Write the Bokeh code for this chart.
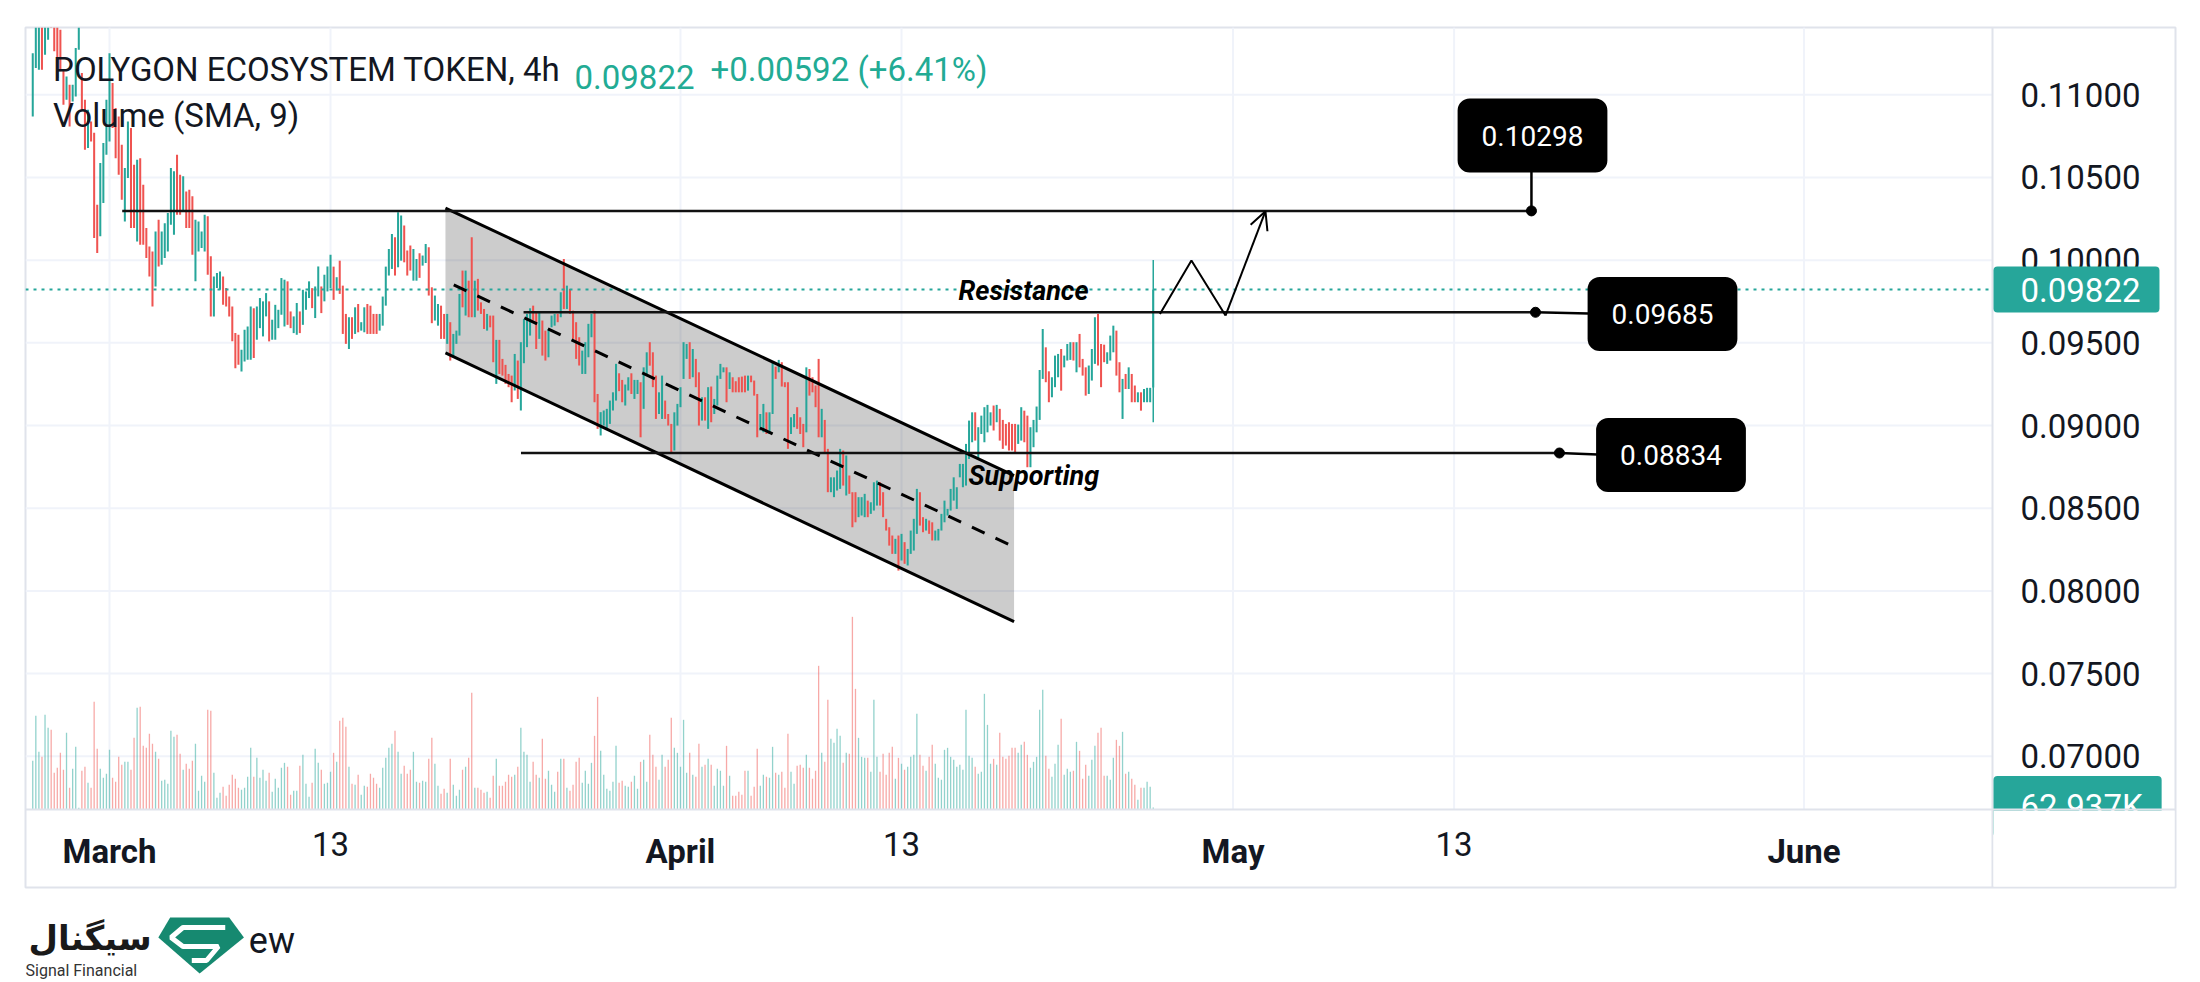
import pandas as pd
from bokeh.plotting import figure
from bokeh.models import (Range1d, LinearAxis, FixedTicker, PrintfTickFormatter, Label,
                          ColumnDataSource, Arrow, OpenHead, Span, BoxAnnotation)
from bokeh.layouts import column
from bokeh.embed import file_html
from bokeh.resources import INLINE
from bokeh.core.properties import value

# ---------------- DATA ----------------
# 4h candles (open, close) in units of 1e-5, oldest first; last candle ends 2025-04-26 16:00
open_close_e5 = [
    (10869, 11252), (11162, 11420), (11152, 11420), (11420, 11152), (11242, 11420), (11333, 11420),
    (11480, 11420), (11420, 11263), (11420, 11101), (11394, 11142), (11152, 10940), (10970, 11111),
    (11061, 10809), (10960, 11061), (10990, 11283), (11273, 11420), (11132, 10910), (10970, 10668),
    (10678, 10910), (10839, 10718), (10770, 10134), (10335, 10043), (10144, 10587), (10345, 10708),
    (10638, 10970), (10718, 11252), (11071, 10799), (10920, 10617), (10869, 10517), (10698, 10365),
    (10234, 10557), (10497, 10839), (10799, 10194), (10577, 10194), (10113, 10607), (10617, 10093),
    (10456, 10093), (10194, 10013), (10083, 9902), (10053, 9720), (9841, 10174), (10244, 9962),
    (9972, 10174), (10013, 10224), (10053, 10285), (10214, 10557), (10154, 10537), (10638, 10275),
    (10517, 10275), (10295, 10507), (10416, 10194), (10426, 10194), (10386, 10033), (9872, 10244),
    (10053, 10234), (10073, 10174), (10053, 10275), (10265, 9912), (10023, 9660), (9660, 9902),
    (9831, 9922), (9821, 9932), (9902, 9730), (9831, 9720), (9781, 9660), (9720, 9509),
    (9559, 9347), (9549, 9368), (9327, 9458), (9388, 9579), (9398, 9599), (9398, 9720),
    (9710, 9408), (9519, 9720), (9589, 9771), (9539, 9751), (9660, 9801), (9751, 9509),
    (9519, 9640), (9519, 9730), (9589, 9700), (9670, 9892), (9599, 9882), (9872, 9609),
    (9690, 9589), (9559, 9660), (9549, 9741), (9690, 9559), (9609, 9821), (9700, 9811),
    (9771, 9872), (9831, 9710), (9650, 9841), (9781, 9962), (9841, 9680), (9751, 9912),
    (9811, 9962), (9831, 10033),
    (9961, 9760), (9816, 9897), (9997, 9796), (9846, 9554), (9675, 9494), (9463, 9655),
    (9655, 9524), (9554, 9715), (9735, 9564), (9574, 9625), (9564, 9715), (9735, 9554),
    (9725, 9554), (9675, 9554), (9675, 9554), (9574, 9675), (9604, 9780), (9725, 9961),
    (9907, 10068), (9947, 10159), (10138, 9907), (9957, 10290), (9997, 10270), (10209, 9987),
    (10058, 9907), (10088, 9937), (9876, 10068), (9876, 10007), (10042, 9893), (9967, 10028),
    (9983, 10098), (10078, 9786), (9836, 9619), (9635, 9786), (9604, 9735), (9725, 9524),
    (9675, 9524), (9494, 9675), (9625, 9393), (9413, 9554), (9494, 9574), (9544, 9796),
    (9937, 9715), (9665, 9937), (9876, 9655), (10138, 9655), (9655, 9876), (9887, 9695),
    (9745, 9675), (9705, 9584), (9574, 9675), (9665, 9594), (9665, 9383), (9252, 9518),
    (9518, 9312), (9403, 9302), (9367, 9252), (9312, 9232), (9302, 9141), (9212, 9433),
    (9393, 9161), (9091, 9504), (9377, 9645), (9474, 9675), (9544, 9709), (9725, 9635),
    (9689, 9463), (9524, 9685), (9635, 9423), (9574, 9393), (9413, 9584), (9594, 9665),
    (9604, 9675), (9675, 9625), (9655, 9806), (10007, 9705), (9705, 9846), (9826, 9675),
    (9695, 9524), (9625, 9403), (9534, 9363), (9312, 9453), (9312, 9504), (9413, 9615),
    (9534, 9675), (9695, 9141), (9191, 8980), (8940, 9081), (9000, 9091), (8980, 9101),
    (9010, 9151), (9091, 9201), (9151, 9373), (9316, 9208), (9276, 9141), (9121, 9248),
    (9212, 9292),
    (9316, 9191), (9161, 9276), (9191, 9276), (9262, 8929), (9101, 9352), (9302, 9443),
    (9504, 9362), (9443, 9232), (9302, 9040), (9070, 9201), (9040, 9302), (9151, 9040),
    (9070, 9000), (9010, 8829), (8849, 9080), (9000, 9131), (9111, 9232), (9282, 9504),
    (9403, 9493), (9504, 9282), (9292, 9463), (9403, 9232), (9322, 9000), (9030, 9171),
    (9171, 9030), (8980, 9232), (9236, 9020), (9070, 9161), (9121, 9302), (9282, 9373),
    (9322, 9352), (9352, 9141), (9221, 9322), (9292, 9201), (9268, 9201), (9292, 9201),
    (9296, 9201), (9302, 9201), (9211, 9302), (9302, 9262), (9272, 9181), (9191, 8929),
    (8970, 9070), (8959, 9131), (9080, 8949), (8949, 9080), (9070, 9383), (9356, 9282),
    (9322, 9397), (9383, 9236), (9262, 9232), (9262, 8859), (8949, 9050), (8990, 9070),
    (9111, 8980), (9050, 8949), (9010, 8869), (8959, 9352), (9342, 9181), (9292, 9201),
    (9242, 9111), (9403, 8929), (8929, 9101), (9034, 8829), (8859, 8597), (8597, 8687),
    (8567, 8687), (8607, 8728), (8617, 8859), (8849, 8637), (8577, 8819), (8698, 8587),
    (8597, 8385), (8597, 8415), (8446, 8567), (8456, 8567), (8446, 8587), (8546, 8446),
    (8466, 8536), (8486, 8657), (8516, 8667), (8657, 8516), (8597, 8446), (8436, 8365),
    (8385, 8274), (8335, 8224), (8224, 8315), (8335, 8123), (8184, 8345), (8295, 8164),
    (8154, 8254), (8224, 8365), (8244, 8436), (8345, 8617), (8597, 8395), (8446, 8355),
    (8365, 8436), (8426, 8345),
    (8415, 8305), (8305, 8365), (8305, 8375), (8365, 8466), (8415, 8546), (8456, 8496),
    (8486, 8617), (8546, 8687), (8496, 8627), (8687, 8768), (8627, 8768), (8637, 8889),
    (8798, 9030), (8899, 9080), (9080, 8909), (8798, 8990), (8949, 9060), (8899, 9111),
    (8959, 9125), (9000, 9080), (9121, 8970), (9020, 9125), (9101, 8909), (9034, 8859),
    (9010, 8879), (9020, 8849), (9010, 8849), (9010, 8829), (8889, 9006), (8909, 9111),
    (9090, 8899), (9060, 8748), (8748, 8990), (8869, 9034), (8959, 9115), (9034, 9336),
    (9282, 9584), (9473, 9262), (9328, 9141), (9171, 9292), (9232, 9423), (9292, 9433),
    (9463, 9211), (9352, 9423), (9393, 9493), (9397, 9504), (9504, 9393), (9322, 9504),
    (9554, 9352), (9403, 9302), (9352, 9181), (9191, 9363), (9272, 9463), (9373, 9655),
    (9675, 9363), (9493, 9232), (9489, 9383), (9373, 9443), (9393, 9544), (9443, 9604),
    (9574, 9302), (9383, 9201), (9040, 9282), (9312, 9221), (9221, 9352), (9312, 9141),
    (9242, 9141), (9141, 9201), (9201, 9090), (9141, 9221), (9141, 9228), (9141, 9228),
    (9230, 9822),
]
last_candle_end = "2025-04-26 16:00"
last_high = 0.10001
last_low = 0.09020

# volume per 4h candle, thousands (oldest first)
volume_k = [
    3080, 1460, 2810, 1730, 1580, 2840, 2450, 2390, 1100, 1250, 1700, 1190, 2300, 650, 1220, 1880,
    50, 1160, 1280, 800, 650, 3230, 1820, 1220, 950, 1070, 1790, 950, 830, 1580, 1340, 1430,
    1430, 1190, 2150, 3050, 3080, 1910, 1850, 2270, 1970, 1730, 1520, 860, 890, 770, 2360, 2180,
    2240, 1670, 1190, 1370, 1220, 1460, 1970, 560, 1010, 830, 2990, 2960, 1100, 350, 500, 680,
    410, 740, 1040, 920, 650, 590, 650, 980, 1850, 980, 1550, 950, 1190, 860, 1100, 530,
    920, 650, 1250, 1400, 1280, 440, 560, 560, 1310, 1640, 770, 380, 800, 1820, 1400, 1190,
    770, 800, 1130, 1700, 1430, 2660, 2750, 2480, 1280, 770, 740, 1040, 440, 710, 680, 1070,
    950, 770, 650, 1250, 1550, 1850, 1970, 2360, 1730, 1070, 1310, 1070, 1190, 1730, 830, 800,
    860, 830, 1520, 2150, 1370, 710, 470, 620, 500, 1520, 740, 410, 590, 1190, 1280, 1550,
    3500, 650, 650, 590, 500, 530, 350, 1010, 1520, 710, 710, 830, 1040, 980, 1040, 1280,
    2450, 1730, 1640, 830, 1430, 1040, 950, 2120, 920, 1160, 740, 530, 1130, 1520, 1520, 650,
    560, 740, 1430, 1550, 800, 1160, 770, 1400, 2210, 3380,
    1760, 1040, 620, 560, 830, 1910, 800, 860, 710, 680, 830, 1010, 620, 1430, 1490, 830,
    2240, 1640, 1280, 890, 1640, 1280, 1490, 2750, 1850, 1700, 1280, 2690, 1100, 1700, 1040, 980,
    1970, 1280, 1340, 1520, 1340, 710, 1220, 1160, 710, 1910, 1010, 410, 410, 530, 440, 1160,
    1160, 410, 680, 1820, 710, 1040, 980, 950, 1880, 1100, 1040, 1130, 650, 2270, 1130, 770,
    1310, 1340, 1250, 1640, 1250, 920, 1160, 4310, 1700, 1430, 3290, 2120, 2000, 2420, 2210, 1400,
    1700, 1670, 5780, 3620, 2150, 1580, 1550, 1550, 1130, 3290, 1580, 1130, 1670, 1040, 1700, 1880,
    920, 1550, 1370, 1190, 1280, 1580, 1640, 2870, 1640, 1310, 1160, 1580, 1940, 1370, 950, 890,
    1790, 1850, 1580, 1490, 1280, 1340, 1190, 2990, 1610, 1550, 1280, 1070, 1130, 3470, 2540, 1370,
    1520, 1340, 2300, 1580, 1520, 1610, 1850, 1850, 1700, 1940, 2030, 1640, 1250, 1430, 1580, 2990,
    3590, 1610, 1220, 980, 1370, 1940, 2720, 1040, 1220, 1130, 1160, 2030, 1760, 920, 1340, 1010,
    1490, 1910, 2300, 2450, 1010, 1010, 890, 1550, 2090, 1910, 2330, 1070, 1130, 920, 740, 290,
    650, 650, 830, 680, 63,
]

# axis ticks
price_ticks = [0.07, 0.075, 0.08, 0.085, 0.09, 0.095, 0.10, 0.105, 0.11]
month_days = [0, 31, 61, 92]                 # days after 2025-03-01
month_names = ["March", "April", "May", "June"]
mid_days = [12, 43, 73]
mid_names = ["13", "13", "13"]

# chart drawings (dates as days after 2025-03-01, prices)
last_price = 0.09822
change_text = "+0.00592 (+6.41%)"
target_level = 0.10298
resist_level = 0.09685
support_level = 0.08834
target_span = (0.69, 77.2)
resist_span = (22.48, 77.42)
support_span = (22.34, 78.72)
channel_days = [18.24, 49.11]
channel_upper = [0.103150, 0.086977]
channel_lower = [0.094395, 0.078138]
channel_mid_days = [18.69, 49.08]
channel_mid = [0.098507, 0.082684]
zig_days = [57.03, 58.74, 60.59, 62.76]
zig_prices = [0.09675, 0.09998, 0.09665, 0.10296]
last_volume_text = "62.937K"

# ---------------- LAYOUT HELPERS (page pixels -> data) ----------------
PX_PER_DAY = 18.419
X_MAR1 = 109.0
PX_PER_PRICE = 16537.5
Y_AT_009 = 425.05
VOL_K_PER_PX = 30.0


def xd(px):
    return (px - X_MAR1) / PX_PER_DAY


def yp(py):
    return 0.09 + (Y_AT_009 - py) / PX_PER_PRICE


UP = "#26a69a"
DOWN = "#ef5350"
TXT = "#131722"
GRID = "#f0f3fa"
BORDER = "#e0e3eb"
FONT = "Roboto"
FS = "33px"

# frame covers the whole widget (plot + price column + time row)
FL, FR, FT, FB = 25, 2175, 27, 887
PLOT_R, PLOT_B = 1992, 809

# ---------------- SOURCES ----------------
n = len(open_close_e5)
times = pd.date_range(end=pd.Timestamp(last_candle_end), periods=n, freq="4h")
days = ((times - pd.Timestamp("2025-03-01")) / pd.Timedelta(days=1)).to_numpy()
opens = [o / 1e5 for o, c in open_close_e5]
closes = [c / 1e5 for o, c in open_close_e5]
is_up = [c >= o for o, c in zip(opens, closes)]
candle_src = ColumnDataSource(dict(
    x=days, top=[max(o, c) for o, c in zip(opens, closes)],
    bottom=[min(o, c) for o, c in zip(opens, closes)],
    color=[UP if u else DOWN for u in is_up]))

m = min(n, len(volume_k))
vol_src = ColumnDataSource(dict(
    x=days[-m:], top=volume_k[-m:],
    color=[UP if u else DOWN for u in is_up[-m:]]))

# ---------------- MAIN FIGURE ----------------
W, H = 2185, 903
p = figure(width=W, height=H,
           x_range=Range1d(xd(FL), xd(FR)), y_range=Range1d(yp(FB), yp(FT)),
           output_backend="svg", toolbar_location=None,
           x_axis_location=None, y_axis_location=None,
           min_border_left=FL, min_border_right=W - FR, min_border_top=FT, min_border_bottom=H - FB,
           background_fill_color="white", border_fill_color="white")
p.grid.visible = False
p.outline_line_color = BORDER
p.outline_line_width = 2
p.extra_y_ranges = {"vol": Range1d(-(FB - PLOT_B) * VOL_K_PER_PX, (PLOT_B - FT) * VOL_K_PER_PX)}

# grid lines limited to the plot pane
grid_days = month_days + mid_days
p.segment(x0=[xd(FL)] * len(price_ticks), y0=price_ticks, x1=[xd(PLOT_R)] * len(price_ticks),
          y1=price_ticks, line_color=GRID, line_width=2)
p.segment(x0=grid_days, y0=[yp(PLOT_B)] * len(grid_days), x1=grid_days,
          y1=[yp(FT)] * len(grid_days), line_color=GRID, line_width=2)
# pane separator (vertical)
p.segment(x0=[xd(PLOT_R)], y0=[yp(FB)], x1=[xd(PLOT_R)], y1=[yp(FT)], line_color=BORDER, line_width=2)

# price axis drawn inside the price column
yax = LinearAxis(ticker=FixedTicker(ticks=price_ticks),
                 formatter=PrintfTickFormatter(format="%.5f"),
                 fixed_location=xd(2138), major_label_standoff=-118,
                 major_tick_in=0, major_tick_out=0,
                 minor_tick_line_color=None, axis_line_color=None,
                 major_label_text_font=FONT, major_label_text_font_size=FS,
                 major_label_text_color=TXT)
p.add_layout(yax, "right")

# time axes drawn inside the time row
for ticks, names, style in ((month_days, month_names, "bold"), (mid_days, mid_names, "normal")):
    ax = LinearAxis(ticker=FixedTicker(ticks=ticks),
                    major_label_overrides={d: nm for d, nm in zip(ticks, names)},
                    fixed_location=yp(868), major_label_standoff=-37,
                    major_tick_in=0, major_tick_out=0,
                    minor_tick_line_color=None, axis_line_color=None,
                    major_label_text_font=FONT, major_label_text_font_size=FS,
                    major_label_text_font_style=style, major_label_text_color=TXT)
    p.add_layout(ax, "below")

# volume
p.vbar(x="x", top="top", bottom=0, width=0.07, source=vol_src, fill_color="color",
       fill_alpha=0.5, line_color=None, y_range_name="vol")

# channel shading
p.patch(x=[channel_days[0], channel_days[1], channel_days[1], channel_days[0]],
        y=[channel_upper[0], channel_upper[1], channel_lower[1], channel_lower[0]],
        fill_color="black", fill_alpha=0.2, line_color=None)

# candles
p.vbar(x="x", top="top", bottom="bottom", width=0.11, source=candle_src,
       fill_color="color", line_color=None)
p.segment(x0=[days[-1]], y0=[last_low], x1=[days[-1]], y1=[last_high], line_color=UP, line_width=1.5)

# last price dotted line
p.line([xd(FL), xd(PLOT_R)], [last_price, last_price], line_color=UP, line_width=2, line_dash="3 5")

# channel lines
p.line(channel_days, channel_upper, line_color="black", line_width=3)
p.line(channel_days, channel_lower, line_color="black", line_width=3)
p.line(channel_mid_days, channel_mid, line_color="black", line_width=3, line_dash="14 12")

# horizontal levels
for lvl, (d0, d1) in ((target_level, target_span), (resist_level, resist_span),
                      (support_level, support_span)):
    p.line([d0, d1], [lvl, lvl], line_color="#111111", line_width=2.5)
p.scatter([target_span[1], resist_span[1], support_span[1]],
          [target_level, resist_level, support_level], size=10, color="black")

# connectors to value boxes
p.line([target_span[1], target_span[1]], [target_level, yp(168)], line_color="black", line_width=2.5)
p.line([resist_span[1], xd(1588)], [resist_level, yp(313)], line_color="black", line_width=2.5)
p.line([support_span[1], xd(1597)], [support_level, yp(454)], line_color="black", line_width=2.5)

# projected path
p.line(zig_days[:3], zig_prices[:3], line_color="black", line_width=2)
p.add_layout(Arrow(end=OpenHead(size=18, line_width=2, line_color="black"),
                   x_start=zig_days[2], y_start=zig_prices[2], x_end=zig_days[3], y_end=zig_prices[3],
                   line_width=2, line_color="black"))


def box(x, y, text, size="28px", bg="black", pad=(24, 24, 27, 27), radius=12, align="center"):
    return Label(x=x, y=y, text=text, text_align=align, text_baseline="middle",
                 text_color="white", text_font=FONT, text_font_size=size,
                 background_fill_color=bg, border_radius=radius,
                 padding=dict(left=pad[0], right=pad[1], top=pad[2], bottom=pad[3]))


for lvl, cx, cy in ((target_level, 1532, 135), (resist_level, 1662, 313.5),
                    (support_level, 1670.5, 454.5)):
    p.add_layout(box(xd(cx), yp(cy), f"{lvl:.5f}"))

p.add_layout(Label(x=xd(958), y=yp(306), text="Resistance", text_font=FONT,
                   text_font_size="27px", text_font_style="bold italic", text_color="black"))
p.add_layout(Label(x=xd(968), y=yp(491), text="Supporting", text_font=FONT,
                   text_font_size="27px", text_font_style="bold italic", text_color="black"))

# legend-like title lines
p.add_layout(Label(x=xd(52.6), y=yp(88), text="POLYGON ECOSYSTEM TOKEN, 4h", text_font=FONT,
                   text_font_size=FS, text_color=TXT))
p.add_layout(Label(x=xd(574), y=yp(88), text=f"{last_price:.5f}", text_font=FONT,
                   text_font_size=FS, text_color="#22ab94"))
p.add_layout(Label(x=xd(710), y=yp(88), text=change_text, text_font=FONT,
                   text_font_size=FS, text_color="#22ab94"))
p.add_layout(Label(x=xd(52.6), y=yp(134), text="Volume (SMA, 9)", text_font=FONT,
                   text_font_size=FS, text_color=TXT))

# price-axis tags (box anchored just right of the pane separator)
p.add_layout(box(xd(PLOT_R + 1), last_price, f"{last_price:.5f}", size=FS, bg=UP,
                 pad=(27, 19, 11, 11), radius=4, align="left"))
p.add_layout(box(xd(PLOT_R + 1), yp(806), last_volume_text, size=FS, bg=UP,
                 pad=(27, 19, 11, 11), radius=4, align="left"))
# time row background hides the overflow of the volume tag
p.add_layout(BoxAnnotation(left=xd(PLOT_R + 1), right=xd(FR - 1), bottom=yp(FB - 1), top=yp(PLOT_B + 1),
                           fill_color="white", fill_alpha=1.0, line_color=None))
p.add_layout(Span(location=yp(PLOT_B), dimension="width", line_color=BORDER, line_width=2))

# ---------------- LOGO STRIP ----------------
QH = 982 - H
q = figure(width=W, height=QH, x_range=Range1d(0, W), y_range=Range1d(0, QH),
           output_backend="svg", toolbar_location=None, min_border=0,
           x_axis_location=None, y_axis_location=None, outline_line_color=None,
           background_fill_color="white", border_fill_color="white")
q.grid.visible = False
q.text(x=[227], y=[42], text=["ew"], text_font=value(FONT), text_font_size="36px",
       text_color=TXT, text_baseline="alphabetic")
q.patch(x=[147, 207, 222, 177, 135], y=[65, 65, 45, 9, 45], fill_color="#168970", line_color=None)
q.line(x=[203, 160, 148, 160, 196, 184, 169], y=[55, 55, 45, 36, 36, 22, 22],
       line_color="white", line_width=5)
q.text(x=[3], y=[45], text=["سیگنال"], text_font=value("DejaVu Sans"), text_font_style="bold",
       text_font_size="34px", text_color="#1a1a1a", text_baseline="alphabetic")
q.text(x=[0], y=[12], text=["Signal Financial"], text_font=value(FONT), text_font_size="16px",
       text_color="#333333", text_baseline="alphabetic")

layout = column(p, q, spacing=0)
open("out.html", "w").write(file_html(layout, INLINE))
